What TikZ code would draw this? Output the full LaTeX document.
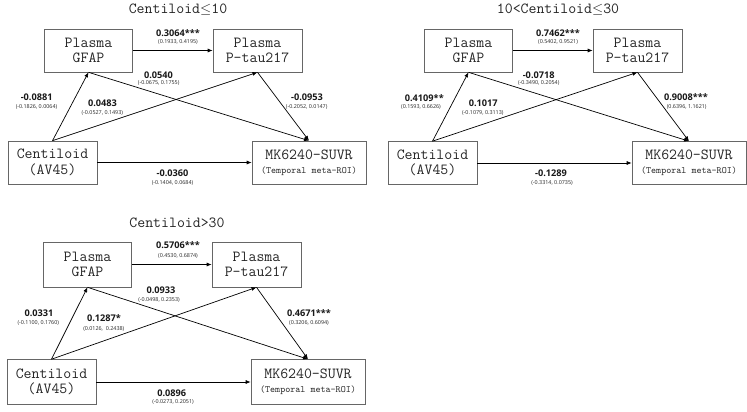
\documentclass[tikz,border=0pt]{standalone}
\usepackage{fontspec}
\newfontfamily\numfont{Open Sans}
\usetikzlibrary{arrows.meta}
\tikzset{
  box/.style={draw=black!60, line width=0.6pt, inner sep=0pt, align=center, text=black!85,
    font=\ttfamily\fontsize{15.4}{15.5}\selectfont},
  conn/.style={-{Latex[length=5pt,width=4pt]}, line width=0.7pt},
  coef/.style={font=\numfont\bfseries\fontsize{9.2}{10}\selectfont, inner sep=0pt, text=black!90},
  ci/.style={font=\numfont\fontsize{5.4}{6}\selectfont, inner sep=0pt, text=black!85},
  ttl/.style={font=\ttfamily\fontsize{15.4}{16}\selectfont, inner sep=0pt, text=black!85, anchor=base},
}
\newcommand\mkpanel[7]{%
  \begin{scope}[shift={(#2,0)}]
    \node[ttl] (#1-t) at (178,#6) {#7};
    \node[box, minimum width=88pt, minimum height=#5pt] (#1-gfap) at (88.5,#3) {Plasma\\GFAP};
    \node[box, minimum width=89pt, minimum height=#5pt] (#1-ptau) at (257.5,#3) {Plasma\\P-tau217};
    \node[box, minimum width=89pt, minimum height=#5pt] (#1-cent) at (52.5,#4) {Centiloid\\(AV45)};
    \node[box, minimum width=114pt, minimum height=#5pt] (#1-mk) at (309,#4)
      {MK6240-SUVR\\[-1.5pt]{\fontsize{9.6}{11}\selectfont(Temporal meta-ROI)}};
  \end{scope}
  \draw[conn] (#1-gfap) -- (#1-ptau);
  \draw[conn] (#1-cent.north) -- (#1-gfap.south);
  \draw[conn] (#1-cent.north) -- (#1-ptau.south);
  \draw[conn] (#1-gfap.south) -- (#1-mk.north);
  \draw[conn] (#1-ptau.south) -- (#1-mk.north);
  \draw[conn] (#1-cent) -- (#1-mk);
}
\newcommand\lbl[7]{%
  \node[coef] (#1) at (#2,#3) {#4};
  \node[ci] (#1c) at (#5,#6) {#7};
}
\begin{document}
\begin{tikzpicture}[x=1pt,y=-1pt]
\useasboundingbox[fill=white] (0,0) rectangle (747,412);
\mkpanel{p1}{0}{50.5}{162.5}{43}{14}{Centiloid$\leq$10}
\mkpanel{p2}{380}{50.5}{163}{43}{14}{10<Centiloid$\leq$30}
\mkpanel{p3}{-1}{264.5}{382}{45}{227}{Centiloid>30}
% panel 1
\lbl{a1}{178}{32.7}{0.3064***}{178}{41.7}{(0.1933, 0.4195)}
\lbl{b1}{158.5}{75}{0.0540}{158.7}{83.3}{(-0.0675, 0.1755)}
\lbl{c1}{36.7}{97.7}{-0.0881}{36.5}{106.7}{(-0.1826, 0.0064)}
\lbl{d1}{102.5}{103.3}{0.0483}{102.3}{112.7}{(-0.0527, 0.1493)}
\lbl{e1}{307}{97.3}{-0.0953}{306.7}{106.7}{(-0.2052, 0.0147)}
\lbl{f1}{172.5}{173.3}{-0.0360}{172.5}{182.7}{(-0.1404, 0.0684)}
% panel 2
\lbl{a2}{558}{32.7}{0.7462***}{558}{42}{(0.5402, 0.9521)}
\lbl{b2}{538.7}{75}{-0.0718}{538.7}{83.3}{(-0.3490, 0.2054)}
\lbl{c2}{424.3}{98}{0.4109**}{421}{107}{(0.1593, 0.6626)}
\lbl{d2}{483.3}{103}{0.1017}{482.8}{113}{(-0.1079, 0.3113)}
\lbl{e2}{686}{97}{0.9008***}{686.7}{107}{(0.6396, 1.1621)}
\lbl{f2}{551}{173}{-0.1289}{552}{183}{(-0.3314, 0.0735)}
% panel 3
\lbl{a3}{178}{245}{0.5706***}{178}{255.7}{(0.4530, 0.6874)}
\lbl{b3}{161}{290}{0.0933}{159}{300}{(-0.0498, 0.2353)}
\lbl{c3}{39}{313.3}{0.0331}{38.3}{323.3}{(-0.1100, 0.1760)}
\lbl{d3}{104}{318.3}{0.1287*}{103.8}{329.3}{(0.0126,\ \ 0.2438)}
\lbl{e3}{309}{313.3}{0.4671***}{309}{323.3}{(0.3206, 0.6094)}
\lbl{f3}{171.7}{393.3}{0.0896}{173}{402.3}{(-0.0273, 0.2051)}
\end{tikzpicture}
\end{document}
